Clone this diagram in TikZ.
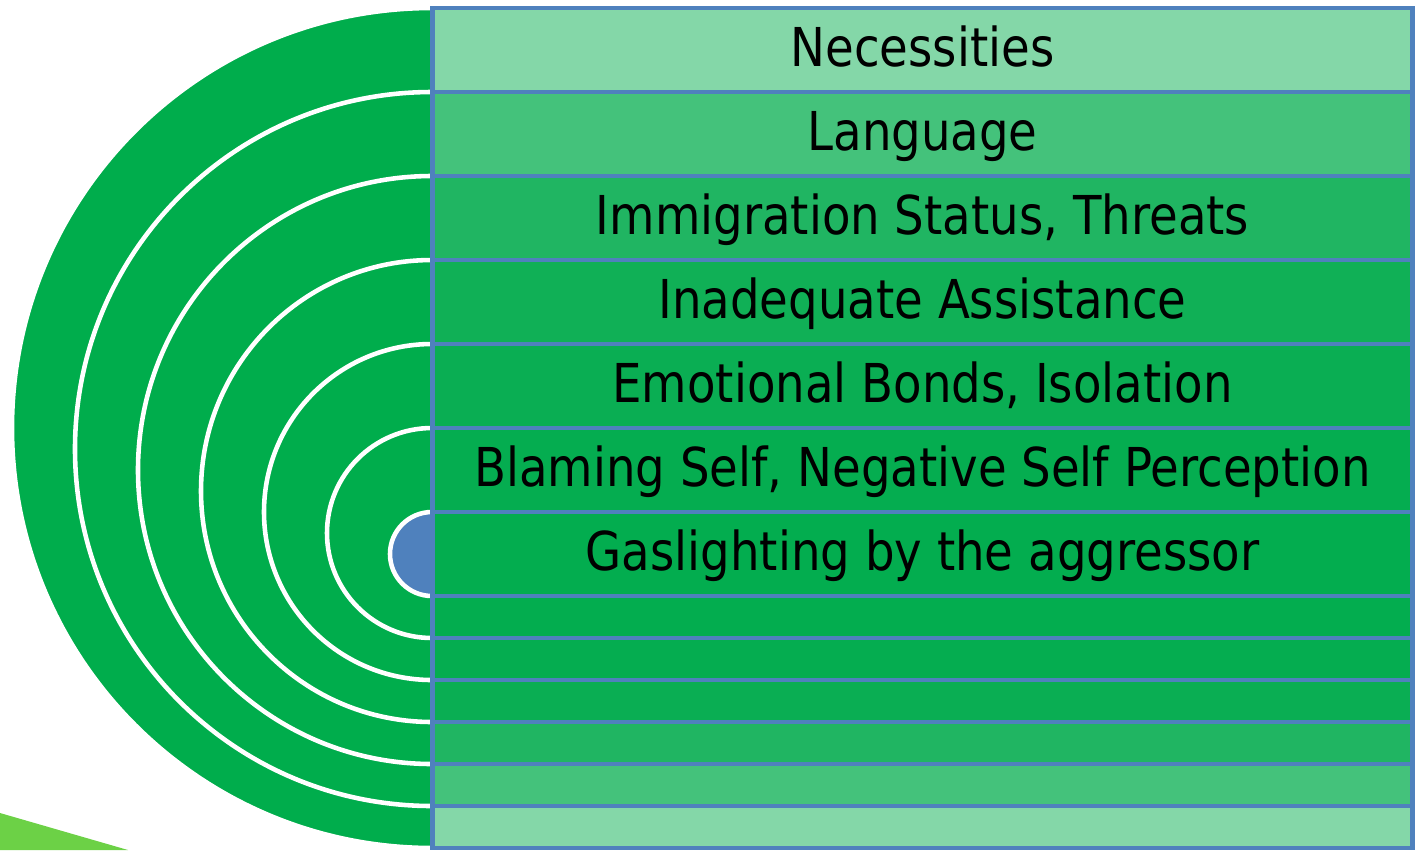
\documentclass[tikz,border=0pt]{standalone}
\usepackage{fontspec}
\setmainfont{DejaVu Sans}[FakeStretch=0.87]

\definecolor{ringgreen}{HTML}{00AD4C}
\definecolor{edgeblue}{HTML}{4F81BD}
\definecolor{swooshgreen}{HTML}{6CD146}
\definecolor{shadeA}{HTML}{84D7A8}
\definecolor{shadeB}{HTML}{44C27B}
\definecolor{shadeC}{HTML}{20B562}
\definecolor{shadeD}{HTML}{10B056}
\definecolor{shadeE}{HTML}{0AAE53}
\definecolor{shadeF}{HTML}{05AD50}
\definecolor{shadeG}{HTML}{03AD4F}

\tikzset{
  band/.style={draw=edgeblue, line width=2.8pt, minimum width=19.62cm, inner sep=0pt},
  tallband/.style={band, minimum height=1.68cm, font=\fontsize{30.5}{36}\selectfont, text height=24pt, text depth=5.5pt},
  lowband/.style={band, minimum height=0.84cm},
  ring/.style={fill=ringgreen, draw=white, line width=2.6pt}
}

\begin{document}
\begin{tikzpicture}[x=0.02cm, y=0.02cm]
  \useasboundingbox (0,0) rectangle (1420,-850);
  % green swoosh in the corner
  \fill[swooshgreen] (0,-813) -- (128,-850) -- (0,-850) -- cycle;
  % six rings, outermost first
  \foreach \cy/\r in {428/420,449/357,470/294,491/231,512/168,533/105}
    \filldraw[ring] (432,-\cy) circle (\r);
  % core
  \filldraw[fill=edgeblue, draw=white, line width=2.6pt] (432,-554) circle (42);
  % labelled rows
  \node[tallband, fill=shadeA] (necessities) at (922.5,-50) {Necessities};
  \node[tallband, fill=shadeB] (language) at (922.5,-134) {Language};
  \node[tallband, fill=shadeC] (immigration) at (922.5,-218) {Immigration Status, Threats};
  \node[tallband, fill=shadeD] (assistance) at (922.5,-302) {Inadequate Assistance};
  \node[tallband, fill=shadeE] (bonds) at (922.5,-386) {Emotional Bonds, Isolation};
  \node[tallband, fill=shadeF] (blaming) at (922.5,-470) {Blaming Self, Negative Self Perception};
  \node[tallband, fill=shadeG] (gaslighting) at (922.5,-554) {Gaslighting by the aggressor};
  % empty rows below
  \node[lowband, fill=shadeG] (lowA) at (922.5,-617) {};
  \node[lowband, fill=shadeF] (lowB) at (922.5,-659) {};
  \node[lowband, fill=shadeE] (lowC) at (922.5,-701) {};
  \node[lowband, fill=shadeC] (lowD) at (922.5,-743) {};
  \node[lowband, fill=shadeB] (lowE) at (922.5,-785) {};
  \node[lowband, fill=shadeA] (lowF) at (922.5,-827) {};
\end{tikzpicture}
\end{document}
